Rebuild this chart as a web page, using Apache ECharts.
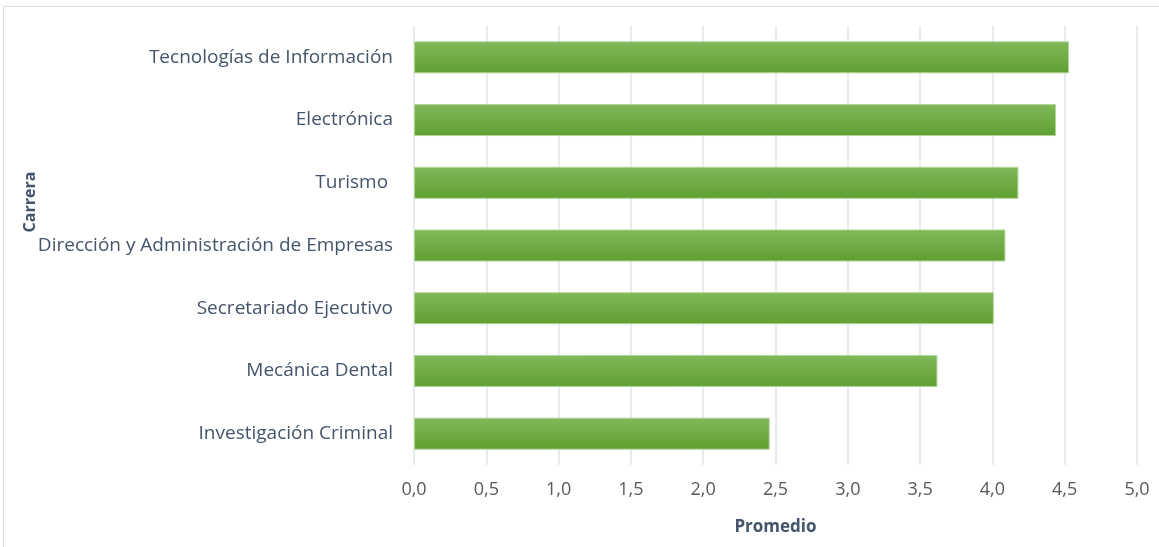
<!DOCTYPE html>
<html><head><meta charset="utf-8">
<script src="https://cdn.jsdelivr.net/npm/echarts@6/dist/echarts.min.js"></script>
<style>html,body{margin:0;padding:0;background:#fff}#c{width:1159px;height:547px}</style>
</head><body><div id="c"></div>
<script>
const categories = ["Tecnologías de Información","Electrónica","Turismo ","Dirección y Administración de Empresas","Secretariado Ejecutivo","Mecánica Dental","Investigación Criminal"];
const values = [4.53, 4.44, 4.18, 4.09, 4.01, 3.62, 2.46];
const xTicks = {min: 0, max: 5, interval: 0.5};

const FF = 'Open Sans';
const chart = echarts.init(document.getElementById('c'));
chart.setOption({
  animation: false,
  textStyle: {fontFamily: FF},
  graphic: [
    {type: 'rect', shape: {x: 3.5, y: 6.5, width: 1170, height: 560}, style: {fill: 'none', stroke: '#d9dde3', lineWidth: 1}},
    {type: 'text', x: 30, y: 202, rotation: Math.PI/2,
     style: {text: 'Carrera', font: 'bold 16px "Open Sans"', fill: '#44546a', align: 'center', verticalAlign: 'middle'}}
  ],
  grid: {left: 414, right: 22, top: 26, bottom: 82, containLabel: false},
  xAxis: {
    type: 'value', min: xTicks.min, max: xTicks.max, interval: xTicks.interval,
    name: 'Promedio', nameLocation: 'middle', nameGap: 54,
    nameTextStyle: {fontSize: 17, fontWeight: 'bold', color: '#44546a', fontFamily: FF},
    axisLabel: {formatter: v => v.toFixed(1).replace('.', ','), fontSize: 18, color: '#595959', margin: 16},
    axisLine: {show: false}, axisTick: {show: false},
    splitLine: {show: true, lineStyle: {color: '#dfe3ea', width: 1.5}}
  },
  yAxis: {
    type: 'category', data: categories, inverse: true,
    axisLine: {show: false}, axisTick: {show: false},
    axisLabel: {fontSize: 19, color: '#44546a', margin: 21}
  },
  series: [{
    type: 'bar', data: values, barWidth: 32,
    itemStyle: {
      color: new echarts.graphic.LinearGradient(0, 0, 0, 1, [
        {offset: 0, color: '#81b95a'}, {offset: 1, color: '#5f9f30'}
      ]),
      borderColor: '#b2d69a', borderWidth: 1
    }
  }]
});
</script></body></html>
